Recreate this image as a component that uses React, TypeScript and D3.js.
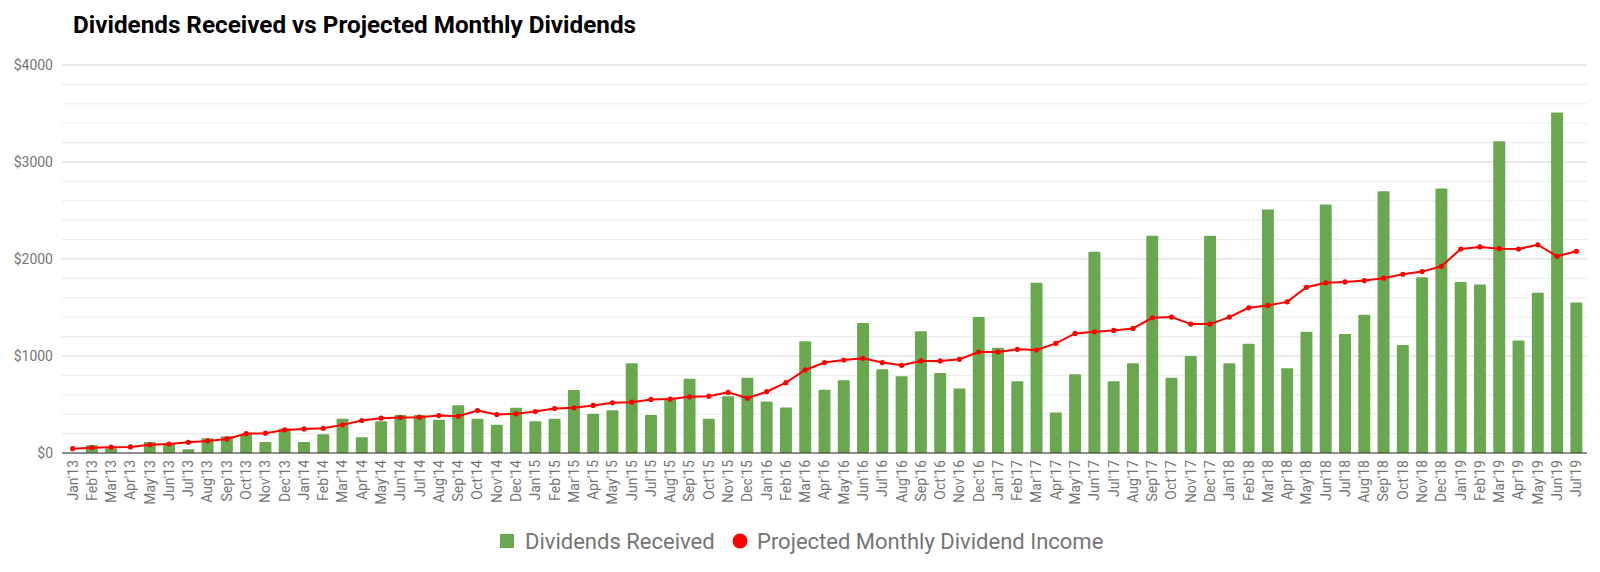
import * as d3 from 'd3'

const months = [
  "Jan'13", "Feb'13", "Mar'13", "Apr'13", "May'13", "Jun'13", "Jul'13", "Aug'13", "Sep'13", "Oct'13", "Nov'13", "Dec'13",
  "Jan'14", "Feb'14", "Mar'14", "Apr'14", "May'14", "Jun'14", "Jul'14", "Aug'14", "Sep'14", "Oct'14", "Nov'14", "Dec'14",
  "Jan'15", "Feb'15", "Mar'15", "Apr'15", "May'15", "Jun'15", "Jul'15", "Aug'15", "Sep'15", "Oct'15", "Nov'15", "Dec'15",
  "Jan'16", "Feb'16", "Mar'16", "Apr'16", "May'16", "Jun'16", "Jul'16", "Aug'16", "Sep'16", "Oct'16", "Nov'16", "Dec'16",
  "Jan'17", "Feb'17", "Mar'17", "Apr'17", "May'17", "Jun'17", "Jul'17", "Aug'17", "Sep'17", "Oct'17", "Nov'17", "Dec'17",
  "Jan'18", "Feb'18", "Mar'18", "Apr'18", "May'18", "Jun'18", "Jul'18", "Aug'18", "Sep'18", "Oct'18", "Nov'18", "Dec'18",
  "Jan'19", "Feb'19", "Mar'19", "Apr'19", "May'19", "Jun'19", "Jul'19",
]

const received = [
  0, 80, 48, 0, 114, 100, 38, 152, 172, 197, 114, 252,
  114, 193, 352, 162, 328, 393, 393, 342, 493, 352, 290, 466,
  328, 352, 650, 404, 442, 925, 393, 560, 765, 352, 585, 775,
  531, 469, 1152, 651, 750, 1339, 863, 791, 1254, 825, 664, 1401,
  1086, 740, 1754, 418, 812, 2076, 740, 925, 2240, 777, 1000, 2240,
  925, 1127, 2511, 873, 1250, 2562, 1226, 1425, 2699, 1113, 1812, 2726,
  1764, 1736, 3213, 1161, 1651, 3511, 1552,
]

const projected = [
  45, 55, 60, 63, 85, 93, 110, 124, 145, 200, 204, 238,
  248, 255, 290, 335, 359, 366, 369, 386, 379, 438, 397, 404,
  428, 459, 466, 490, 517, 524, 552, 556, 579, 586, 625, 565,
  632, 725, 856, 932, 959, 976, 932, 904, 949, 949, 966, 1041,
  1041, 1069, 1062, 1130, 1233, 1250, 1264, 1284, 1394, 1401, 1329, 1329,
  1401, 1497, 1521, 1558, 1709, 1754, 1764, 1778, 1802, 1843, 1870, 1925,
  2103, 2124, 2106, 2103, 2147, 2028, 2079,
]

const yLabelTicks = [0, 1000, 2000, 3000, 4000]
const gridTicks = d3.range(0, 4001, 200)

const W = 1600
const H = 572
const plot = { left: 63, right: 1586, top: 65, bottom: 453 }
const font = 'Roboto, "Open Sans", sans-serif'

export default function App() {
  const x = d3
    .scaleBand<string>()
    .domain(months)
    .range([plot.left, plot.right])
    .paddingInner(0.38)
    .paddingOuter(0.19)

  const y = d3.scaleLinear().domain([0, 4000]).range([plot.bottom, plot.top])

  const cx = (i: number) => (x(months[i]) ?? 0) + x.bandwidth() / 2

  const line = d3
    .line<number>()
    .x((_, i) => cx(i))
    .y((d) => y(d))

  return (
    <svg
      width={W}
      height={H}
      style={{ position: 'absolute', left: 0, top: 0, background: '#fff', fontFamily: font }}
    >
      <text
        x={73}
        y={33}
        fontSize={24}
        fontWeight={700}
        fill="#000"
        textLength={563}
        lengthAdjust="spacingAndGlyphs"
      >
        Dividends Received vs Projected Monthly Dividends
      </text>

      {/* grid */}
      {gridTicks.map((t) => (
        <line
          key={t}
          x1={plot.left - 1}
          x2={plot.right + 1}
          y1={y(t)}
          y2={y(t)}
          stroke={t % 1000 === 0 ? '#d6d6d6' : '#ebebeb'}
          strokeWidth={1}
        />
      ))}

      {yLabelTicks.map((t) => (
        <text
          key={t}
          x={53}
          y={y(t)}
          dy="0.35em"
          textAnchor="end"
          fontSize={14}
          fill="#757575"
        >
          ${t}
        </text>
      ))}

      {/* bars */}
      {received.map((v, i) => (
        <rect
          key={months[i]}
          x={x(months[i])}
          y={y(v)}
          width={x.bandwidth()}
          height={plot.bottom - y(v)}
          fill="#6aa84f"
          rx={1}
        />
      ))}

      <line x1={plot.left - 1} x2={plot.right + 1} y1={plot.bottom} y2={plot.bottom} stroke="#333" strokeWidth={1} />

      {/* projected line */}
      <path d={line(projected) ?? ''} fill="none" stroke="#ff0000" strokeWidth={2} />
      {projected.map((v, i) => (
        <circle key={months[i]} cx={cx(i)} cy={y(v)} r={2.6} fill="#ff0000" />
      ))}

      {/* x labels */}
      {months.map((m, i) => (
        <text
          key={m}
          transform={`translate(${cx(i)},460) rotate(-90)`}
          dy="0.35em"
          textAnchor="end"
          fontSize={14}
          fill="#757575"
        >
          {m}
        </text>
      ))}

      {/* legend */}
      <rect x={500} y={534} width={14} height={14} fill="#6aa84f" />
      <text x={525} y={541} dy="0.35em" fontSize={22} fill="#757575">
        Dividends Received
      </text>
      <circle cx={740} cy={541} r={7.5} fill="#ff0000" />
      <text x={757} y={541} dy="0.35em" fontSize={22} fill="#757575">
        Projected Monthly Dividend Income
      </text>
    </svg>
  )
}
